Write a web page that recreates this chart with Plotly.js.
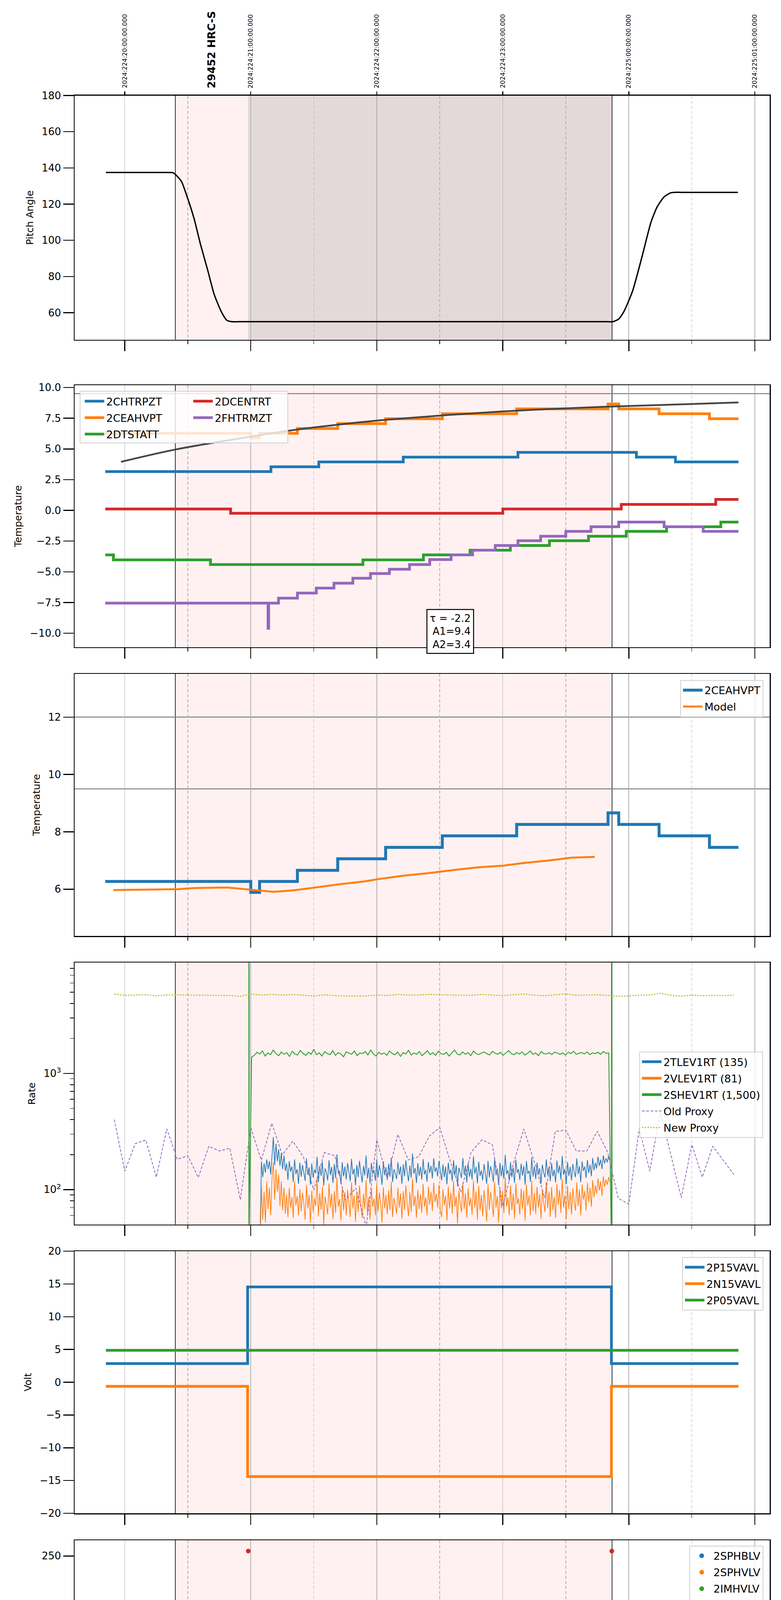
<!DOCTYPE html>
<html><head><meta charset="utf-8">
<script src="https://cdn.plot.ly/plotly-3.0.1.min.js"></script>
<style>html,body{margin:0;padding:0;background:#fff}#chart{width:2000px;height:6200px}</style>
</head><body><div id="chart"></div>
<script>
// ---------------- DATA (hours, local) ----------------
const hourTicks = [16, 17, 18, 19, 20, 21];
const hourLabels = ['16h', '17h', '18h', '19h', '20h', '21h'];
const halfTicks = [16.5, 17.5, 18.5, 19.5, 20.5];
const halfLabel = '30';
const utcLabels = ['2024:224:20:00:00.000', '2024:224:21:00:00.000', '2024:224:22:00:00.000',
  '2024:224:23:00:00.000', '2024:225:00:00:00.000', '2024:225:01:00:00.000'];
const dateLabel = '2024-08-11 (224)';
const obsLabel = '29452 HRC-S';
const obsLabelT = 16.69;
const obsStart = 16.401, obsEnd = 19.867, dwellStart = 16.978;
const hvOn = 16.986, hvOff = 19.864;
const limitLines2 = [9.5];
const limitLines3 = [12, 9.5];
const fitText = 'τ = -2.2<br>A1=9.4<br>A2=3.4';

// Panel 1: pitch
const pitch = [[15.85,137.5],[16.34,137.5],[16.38,137.4],[16.40,136.5],[16.45,132.5],[16.50,123],[16.55,112],[16.60,98],[16.66,83],
  [16.71,70],[16.77,60],[16.81,55.8],[16.85,55],[16.90,55],[19.83,55],[19.874,55],[19.92,56.5],[19.96,60.5],[20.03,72],[20.105,91],
  [20.176,110],[20.225,118.5],[20.28,124],[20.33,126.2],[20.36,126.5],[20.42,126.5],[20.866,126.5]];

// Panel 2: temperatures
const chtrpzt = [[15.845,3.16],[17.16,3.55],[17.54,3.94],[18.21,4.33],[19.12,4.72],[20.06,4.33],[20.37,3.94],[20.87,3.94]];
const ceahvpt = [[15.845,6.27],[17.0,5.89],[17.07,6.27],[17.37,6.66],[17.69,7.06],[18.07,7.46],[18.52,7.86],[19.11,8.26],
  [19.835,8.66],[19.92,8.26],[20.24,7.86],[20.64,7.46],[20.87,7.46]];
const dtstatt = [[15.845,-3.62],[15.91,-4.03],[16.68,-4.41],[17.89,-4.03],[18.37,-3.62],[18.74,-3.24],[19.06,-2.86],
  [19.37,-2.47],[19.68,-2.10],[19.98,-1.71],[20.30,-1.33],[20.73,-0.95],[20.87,-0.95]];
const dcentrt = [[15.845,0.11],[16.84,-0.24],[19.00,0.11],[19.94,0.49],[20.69,0.89],[20.87,0.89]];
const fhtrmzt = [[15.845,-7.55],[17.137,-9.6],[17.142,-7.55],[17.22,-7.14],[17.37,-6.73],[17.52,-6.32],[17.66,-5.93],
  [17.81,-5.52],[17.95,-5.14],[18.10,-4.79],[18.26,-4.41],[18.42,-4.0],[18.59,-3.62],[18.76,-3.24],[18.94,-2.86],
  [19.12,-2.47],[19.30,-2.10],[19.50,-1.71],[19.70,-1.33],[19.92,-0.95],[20.28,-1.33],[20.59,-1.71],[20.87,-1.71]];
const fitCurve = [[15.97,3.95],[16.40,4.95],[16.79,5.65],[17.28,6.45],[17.54,6.8],[17.8,7.1],[18.06,7.36],[18.51,7.72],
  [19.1,8.11],[19.86,8.45],[20.87,8.78]];

// Panel 3: model
const ceaModel = [[15.91,5.97],[16.43,6.0],[16.55,6.04],[16.81,6.06],[16.91,6.02],[17.03,5.97],[17.18,5.91],[17.34,5.96],
  [17.5,6.06],[17.7,6.17],[17.9,6.27],[18.01,6.35],[18.21,6.47],[18.41,6.56],[18.61,6.67],[18.8,6.76],[19.0,6.82],
  [19.16,6.91],[19.36,7.0],[19.55,7.1],[19.73,7.13]];

// Panel 4: rates
const tlev1rt = [40,175,128,168,140,182,150,176,135,190,283,162,248,175,222,160,205,150,196,145,
  168,121,176,143,158,117,182,136,150,112,171,129,163,140,119,185,134,155,110,168,127,149,138,192,116,
  160,131,174,108,152,141,120,179,133,157,114,166,125,201,137,146,111,172,130,158,122,169,143,118,184,
  135,151,109,163,128,177,139,115,160,132,196,124,154,113,170,136,148,119,181,127,162,141,110,175,133,
  156,121,167,129,188,116,150,138,123,172,134,159,112,165,130,178,140,118,161,126,204,137,153,114,169,
  131,157,122,183,135,148,117,173,139,160,125,186,142,155,130,176,144,120,165,128,158,111,171,136,149,
  118,179,132,163,107,154,140,126,187,134,161,115,168,129,151,122,193,137,157,113,174,131,146,120,166,
  138,112,177,127,159,141,116,184,133,152,109,170,130,162,124,199,136,147,119,172,128,155,114,181,139,
  150,121,167,132,160,110,176,137,145,117,189,129,158,123,171,135,153,112,164,140,127,182,133,156,118,
  169,130,148,115,178,138,161,122,195,134,151,111,173,131,157,120,166,142,128,185,136,159,116,175,145,
  158,126,180,139,164,130,187,147,170,152,192,160,181,150,197,168,186,172,194,180];
const vlev1rt = [30,108,55,96,52,118,68,104,60,126,172,82,150,96,135,72,118,66,104,62,
  91,58,104,70,86,57,119,73,88,60,101,65,94,76,55,110,69,90,52,98,64,84,72,125,59,
  93,67,106,50,87,75,61,113,70,92,56,97,63,128,71,83,54,103,66,95,60,100,77,58,116,
  69,89,53,96,64,108,74,57,92,68,121,62,86,55,102,71,84,60,111,65,94,76,52,105,69,
  90,61,99,66,117,58,85,73,62,104,70,93,56,97,67,109,75,59,95,64,124,72,88,57,100,
  68,91,63,112,71,86,60,106,74,96,65,115,78,92,70,110,66,58,101,73,89,54,107,69,94,
  62,118,71,87,51,98,76,64,114,68,93,57,103,72,85,61,120,70,96,55,108,66,90,59,99,
  74,53,111,67,95,78,58,116,70,88,52,104,69,97,63,127,71,86,60,109,66,92,56,113,75,
  84,61,102,68,98,54,110,73,89,60,119,65,94,62,106,70,91,56,101,77,64,117,69,96,58,
  105,67,87,57,112,74,99,63,123,70,90,55,108,68,95,61,103,79,66,115,72,100,60,111,82,
  97,66,114,78,104,71,121,86,109,92,125,98,118,88,130,106,122,110,128,116];
const shev1rt = [30,1380,1430,1520,1470,1560,1410,1500,1450,1590,1480,1420,1530,1460,1510,1400,1550,1470,1440,1580,
  1490,1430,1520,1460,1610,1450,1500,1410,1540,1480,1450,1570,1430,1510,1470,1390,1530,1490,1460,1560,
  1420,1500,1480,1540,1440,1590,1470,1410,1520,1460,1500,1430,1560,1480,1450,1530,1400,1510,1470,1580,
  1440,1500,1460,1540,1420,1490,1570,1450,1510,1430,1550,1480,1460,1520,1410,1500,1590,1470,1440,1530,
  1460,1510,1420,1560,1480,1450,1500,1530,1470,1440,1550,1490,1460,1520,1430,1500,1570,1480,1450,1510,
  1470,1530,1440,1490,1560,1460,1500,1420,1540,1480,1470,1510,1450,1530,1490,1460,1500,1440,1520,1480,
  1550,1460,1490,1510,1470,1530,1450,1500,1480,1520,1460,1540,1490,1500,30];
const oldProxy = [400,144,249,267,128,333,182,196,127,236,215,227,82,342,179,372,199,261,192,99,
  208,196,81,103,48,268,124,298,180,192,289,342,175,95,211,268,244,72,166,333,
  173,85,317,325,215,215,317,208,84,75,335,144,468,199,85,244,128,236,179,135];
const newProxy = [4819,4696,4731,4749,4645,4731,4749,4714,4714,4714,4696,4679,4610,4819,4714,4784,4714,4766,4714,4628,
  4749,4679,4628,4628,4645,4731,4679,4784,4714,4731,4784,4749,4731,4714,4696,4784,4731,4662,4749,4819,
  4714,4662,4749,4837,4696,4731,4749,4696,4610,4645,4714,4731,4891,4696,4628,4714,4662,4696,4679,4714];
const proxyStart = 15.917, proxyEnd = 20.833;
const levStart = 17.074, levEnd = 19.85;
const shevStart = 16.985, shevEnd = 19.862;

// Panel 5: voltages
const p15vavl = [[15.85,2.85],[16.975,14.55],[19.862,2.85],[20.87,2.85]];
const n15vavl = [[15.85,-0.62],[16.975,-14.4],[19.862,-0.62],[20.87,-0.62]];
const p05vavl = [[15.85,4.88],[20.87,4.88]];

// Panel 6: HV monitors
const sphblvEarly = [[17.026,118],[17.034,102],[17.046,97],[17.058,92],[17.069,87],[17.08,82]];
const sphblvLevel = [77.6,77.8,77.5,77.7,77.6,77.9,77.5,77.6,77.8,77.6,77.5,77.7,77.6,77.8,77.6,77.5,77.7,77.9,77.6,77.5,
  77.8,77.6,77.7,77.5,77.6,77.8,77.6,77.7,77.5,77.9,77.6,77.7,77.5,77.6,77.8,77.6,77.5,77.7,77.6,77.8,
  77.6,77.5,77.7,77.9,77.6,77.5,77.8,77.6,77.7,77.5,77.6,77.8,77.6,77.7,77.5,77.9,77.6,77.7,77.5,77.6,
  77.8,77.6,77.5,77.7,77.6,77.8,77.6,77.5,77.7,77.9,77.6,77.5,77.8,77.6,77.7,77.5,77.6,77.8,77.6,77.7,
  77.5,77.9,77.6,77.7,77.6,77.8,77.5,77.7,77.6,77.9,77.5,77.6,77.8,77.6,77.5,77.7,77.6,77.8,77.6,77.5,
  77.7,77.9,77.6,77.5,77.8,77.6,77.7,77.5,77.6,77.8,77.6,77.7,77.5,77.9,77.6,77.7,77.5,77.6,77.8,77.6,
  77.5,77.7,77.6,77.8,77.6,77.5,77.7,77.9,77.6,77.5,77.8,77.6,77.7,77.5,77.6,77.8,77.6,77.7,77.5,77.9,
  77.6,77.7,77.5,77.6,77.8,77.6,77.5,77.7,77.6,77.8,77.6,77.5,77.7,77.9,77.6,77.5,77.8,77.6,77.7,77.5,
  77.6,77.8,77.6,77.7,77.5,77.9,77.6,77.7];
const sphvlvEarly = [[17.026,127],[17.034,96],[17.046,91],[17.058,86],[17.069,80],[17.08,75]];
const sphvlvLevel = [71.0,70.8,71.2,69.6,71.0,70.9,71.1,70.7,69.8,71.0,71.2,70.9,71.0,69.5,70.8,71.1,71.0,70.6,71.2,69.7,
  71.0,70.9,71.1,70.8,71.0,69.6,70.9,71.2,71.0,70.7,71.1,69.8,71.0,70.9,71.2,70.8,71.0,69.5,71.1,70.9,
  71.0,70.7,71.2,69.9,71.0,70.8,71.1,70.9,71.0,69.6,70.8,71.2,71.0,70.9,71.1,69.7,71.0,70.8,71.2,70.9,
  71.0,69.8,71.1,70.7,71.0,70.9,71.2,69.6,71.0,70.8,71.1,70.9,71.0,69.7,70.8,71.2,71.0,70.9,71.1,69.9,
  71.0,70.8,71.1,71.0,70.9,71.2,70.8,71.0,69.7,71.1,70.9,71.0,70.8,71.2,69.6,71.0,70.9,71.1,70.7,71.0,
  69.8,70.9,71.2,71.0,70.8,71.1,69.5,71.0,70.9,71.2,70.7,71.0,71.1,69.9,70.8,71.0,71.2,70.9,69.6,71.1,
  71.0,70.8,71.2,70.9,69.7,71.0,71.1,70.8,71.0,70.9,69.8,71.2,71.0,70.7,71.1,70.9,69.6,71.0,70.8,71.2,
  71.0,70.9,69.9,71.1,70.8,71.0,71.2,70.9,69.7,71.0,70.8,71.1,70.9,71.0,69.5,71.2,70.8,71.0,70.9,71.1,
  70.7,71.0,69.8,71.2,70.9,71.0,70.8,71.0];
const sphvlvSpikes = [[18.10,127],[18.16,127],[18.22,127],[18.25,127],[18.27,127],[18.31,127],[18.36,127],
  [18.38,127],[18.41,127],[18.51,127],[19.66,127],[19.71,127],[19.80,127]];
const hvLevelStart = 17.09, hvLevelEnd = 19.862;
const imhblv = [[16.98,255],[19.865,255]];

// Panel 7: detector temperatures  (blocks: [t0, t1, low, high] of rapidly toggling telemetry)
const spinatm = [[16.974,1.2],[16.985,1.74],[19.086,2.22],[19.852,2.22]];
const spinBlocks = [[18.089,18.12,-2.5,1.74],[18.134,18.249,-2.5,1.74],[18.276,18.324,-2.5,1.74],[18.332,18.391,-2.5,1.74],
  [18.435,18.46,-2.5,1.74],[18.484,18.615,-2.5,1.74],[18.652,18.677,-2.5,1.74],[18.744,18.767,-2.5,1.74],
  [19.605,19.733,-2.5,2.22],[19.764,19.791,-2.5,2.22],[19.833,19.85,-2.5,2.22]];
const sphvatm = [[16.974,14.33],[17.156,14.71],[17.231,15.07],[17.314,15.4],[17.381,15.76],[17.461,16.09],[17.559,16.44],
  [17.658,16.8],[17.769,17.12],[17.91,17.45],[18.05,17.8],[18.214,18.19],[18.259,-2.5],[18.265,18.19],[18.403,18.56],
  [18.414,-2.5],[18.42,18.56],[18.622,18.87],[18.947,19.2],[19.01,18.87],[19.016,19.2],[19.321,19.58],[19.736,19.95],
  [19.803,-2.5],[19.808,19.95],[19.852,19.95]];
const sphvBlocks = [[18.089,18.12,8.42,17.8],[18.134,18.214,8.42,17.8],[18.214,18.228,8.42,18.19],[18.228,18.403,8.65,18.19],
  [18.403,18.615,8.65,18.56],[18.66,18.666,8.7,18.87],[18.75,18.756,8.7,18.87],[19.605,19.733,9.0,19.58],
  [19.764,19.77,9.25,19.95],[19.79,19.796,9.25,19.95],[19.835,19.845,9.25,19.95]];
const iminatm = [[16.974,-0.49],[17.338,-1.02],[17.346,-0.49],[18.947,-0.07],[19.80,-2.5],[19.808,-0.07],[19.852,-0.07]];
const iminBlocks = [[18.089,18.12,-0.49,1.8],[18.134,18.324,-0.49,1.8],[18.332,18.391,-0.49,1.8],[18.403,18.46,-0.49,1.8],
  [18.484,18.615,-0.49,1.8],[18.652,18.677,-0.49,1.8],[18.744,18.767,-0.49,1.8],[19.605,19.733,-0.07,2.22],
  [19.764,19.791,-0.07,2.22],[19.833,19.85,-0.07,2.22]];
const imhvatm = [[16.970,-3],[16.974,13.63],[17.535,14.0],[17.548,13.63],[17.579,13.97],[17.712,13.6],[17.722,13.97],
  [17.957,14.32],[18.259,8.6],[18.265,14.32],[18.332,14.62],[18.414,8.6],[18.42,14.62],[18.66,18.9],[18.666,14.62],
  [18.726,15.0],[18.75,18.9],[18.756,15.0],[19.21,15.3],[19.75,15.67],[19.855,25],[19.862,-3],[19.869,25],[19.876,-3]];
const imhvBlocks = [[18.089,18.12,14.32,17.82],[18.134,18.214,14.32,17.82],[18.214,18.332,14.32,18.17],[18.332,18.403,14.62,18.17],
  [18.403,18.615,14.62,18.55],[19.605,19.733,15.3,19.6],[19.764,19.77,9.25,20.0],[19.79,19.796,9.25,20.0],[19.835,19.845,9.25,20.0]];

// Panel 8: FEA temperatures
const fradpyt = [[15.845,-9.8],[16.43,-9.17],[16.59,-9.8],[17.18,-9.17],[17.35,-8.78],[17.51,-8.37],[17.67,-7.96],[17.84,-7.57],
  [18.00,-7.16],[18.17,-6.78],[18.36,-6.37],[18.54,-5.98],[18.73,-5.58],[18.93,-5.19],[19.14,-4.79],[19.36,-4.39],
  [19.57,-4.01],[19.81,-3.65],[20.03,-3.26],[20.19,-2.85],[20.20,-3.26],[20.32,-3.65],[20.45,-4.02],[20.72,-4.41],[20.87,-4.41]];
const fepratm = [[16.970,-10],[16.974,-8.07],[16.998,-7.7],[17.045,-7.26],[17.093,-6.85],[17.144,-6.44],[17.211,-6.0],
  [17.294,-5.61],[17.393,-5.19],[17.508,-4.78],[17.626,-4.37],[17.769,-3.96],[17.915,-3.54],[18.073,-3.11],[18.22,-2.68],
  [18.40,-2.27],[18.57,-1.85],[18.765,-1.42],[18.963,-0.98],[19.172,-0.56],[19.389,-0.1],[19.753,0.36],[19.852,0.36]];
const feprBlocks = [[18.093,18.125,-6.04,-3.11],[18.141,18.30,-6.04,-2.9],[18.32,18.38,-6.04,-2.68],[18.396,18.43,-6.04,-2.27],
  [18.476,18.607,-6.04,-2.1],[18.646,18.666,-6.04,-1.85],[18.745,18.765,-6.04,-1.85],[19.607,19.721,-6.04,-0.1]];
const fe00atm = [[16.970,-10],[16.974,-8.9],[17.074,-8.52],[17.095,-9.33],[17.100,-8.52],[17.196,-8.19],[17.294,-7.81],
  [17.39,-7.44],[17.492,-7.09],[17.591,-6.74],[17.698,-6.39],[17.808,-6.04],[17.923,-5.67],[17.972,-7.15],[17.977,-5.67],
  [18.034,-5.33],[18.133,-5.04],[18.257,-10],[18.262,-5.04],[18.31,-4.7],[18.415,-10],[18.42,-4.7],[18.429,-4.37],
  [18.559,-3.96],[18.651,1],[18.657,-3.96],[18.694,-3.63],[18.750,1],[18.756,-3.63],[18.836,-3.33],[18.982,-2.96],
  [19.083,-2.7],[19.088,-2.96],[19.12,-2.63],[19.148,-2.38],[19.153,-2.63],[19.279,-2.28],[19.318,-2.05],[19.323,-2.28],
  [19.429,-1.96],[19.474,-1.72],[19.479,-1.96],[19.581,-1.4],[19.586,-1.96],[19.595,-1.63],[19.773,1],[19.79,-10],
  [19.805,1],[19.855,-10],[19.87,1],[19.884,-10]];
const fe00Blocks = [[18.093,18.133,-5.33,1],[18.133,18.31,-5.04,1],[18.31,18.429,-4.7,1],[18.429,18.559,-4.37,1],
  [18.559,18.615,-3.96,1],[19.607,19.721,-1.69,1]];

// ---------------- LAYOUT CONSTANTS ----------------
const W = 2000, H = 6200, F = 'DejaVu Sans';
const plotL = 191, plotR = 1971;
const xRange = [15.6018, 21.1178];
const panelTop = [244.6, 986, 1725, 2464.4, 3203, 3943, 4682, 5421.5];
const panelBot = [869.6, 1656.7, 2396, 3134.6, 3874, 4613.5, 5352, 6090.6];
const C = {blue:'#1f77b4', orange:'#ff7f0e', green:'#2ca02c', red:'#d62728', purple:'#9467bd', olive:'#bcbd22'};
const LW = 7;

// ---------------- HELPERS ----------------
function unzip(p) { return {x: p.map(a => a[0]), y: p.map(a => a[1])}; }
function lin(a, b, n) { const o = []; for (let i = 0; i < n; i++) o.push(a + (b - a) * i / (n - 1)); return o; }
function rects(spec) { const x = [], y = []; spec.forEach(s => { x.push(s[0], s[1], s[1], s[0], s[0], null); y.push(s[2], s[2], s[3], s[3], s[2], null); }); return {x, y}; }
function ax(i) { return {xaxis: i === 1 ? 'x' : 'x' + i, yaxis: i === 1 ? 'y' : 'y' + i}; }
const traces = [];
function step(p, name, color, i, legend, width) {
  const d = unzip(p);
  traces.push(Object.assign({type:'scatter', mode:'lines', x:d.x, y:d.y, name:name, legend:legend, legendgroup:name + '_' + i,
    line:{color:color, width:width || LW, shape:'hv'}, hoverinfo:'skip'}, ax(i)));
}
function block(spec, color, i) {
  const d = rects(spec);
  traces.push(Object.assign({type:'scatter', mode:'lines', x:d.x, y:d.y, fill:'toself', fillcolor:color,
    line:{color:color, width:LW}, showlegend:false, hoverinfo:'skip'}, ax(i)));
}

// ---------------- TRACES ----------------
(function () { const d = unzip(pitch);
  traces.push(Object.assign({type:'scatter', mode:'lines', x:d.x, y:d.y, line:{color:'#000', width:3.5, shape:'spline', smoothing:0.6}, showlegend:false, hoverinfo:'skip'}, ax(1))); })();
step(chtrpzt, '2CHTRPZT', C.blue, 2, 'legend');
step(ceahvpt, '2CEAHVPT', C.orange, 2, 'legend');
step(dtstatt, '2DTSTATT', C.green, 2, 'legend');
step(dcentrt, '2DCENTRT', C.red, 2, 'legend2');
step(fhtrmzt, '2FHTRMZT', C.purple, 2, 'legend2');
(function () { const d = unzip(fitCurve);
  traces.push(Object.assign({type:'scatter', mode:'lines', x:d.x, y:d.y, line:{color:'#454545', width:4.5, shape:'spline'}, showlegend:false, hoverinfo:'skip'}, ax(2))); })();
step(ceahvpt, '2CEAHVPT', C.blue, 3, 'legend3', 7.5);
(function () { const d = unzip(ceaModel);
  traces.push(Object.assign({type:'scatter', mode:'lines', x:d.x, y:d.y, name:'Model', legend:'legend3', legendgroup:'model_3', line:{color:C.orange, width:5}, hoverinfo:'skip'}, ax(3))); })();
[[tlev1rt, levStart, levEnd, C.blue, '2TLEV1RT (135)', 1.8], [vlev1rt, levStart, levEnd, C.orange, '2VLEV1RT (81)', 1.8],
 [shev1rt, shevStart, shevEnd, C.green, '2SHEV1RT (1,500)', 2.2]].forEach(r => {
  traces.push(Object.assign({type:'scatter', mode:'lines', x:lin(r[1], r[2], r[0].length), y:r[0], line:{color:r[3], width:r[5]}, showlegend:false, hoverinfo:'skip'}, ax(4)));
  traces.push(Object.assign({type:'scatter', mode:'lines', x:[null], y:[null], name:r[4], legend:'legend4', legendgroup:r[4], line:{color:r[3], width:LW}, hoverinfo:'skip'}, ax(4)));
});
traces.push(Object.assign({type:'scatter', mode:'lines', x:lin(proxyStart, proxyEnd, oldProxy.length), y:oldProxy, name:'Old Proxy', legend:'legend4', legendgroup:'old', line:{color:C.purple, width:2, dash:'7px,4px'}, hoverinfo:'skip'}, ax(4)));
traces.push(Object.assign({type:'scatter', mode:'lines', x:lin(proxyStart, proxyEnd, newProxy.length), y:newProxy, name:'New Proxy', legend:'legend4', legendgroup:'new', line:{color:C.olive, width:2.5, dash:'4px,3px'}, hoverinfo:'skip'}, ax(4)));
step(p15vavl, '2P15VAVL', C.blue, 5, 'legend5');
step(n15vavl, '2N15VAVL', C.orange, 5, 'legend5');
step(p05vavl, '2P05VAVL', C.green, 5, 'legend5');
(function () {
  const bx = sphblvEarly.map(a => a[0]).concat(lin(hvLevelStart, hvLevelEnd, sphblvLevel.length));
  const by = sphblvEarly.map(a => a[1]).concat(sphblvLevel);
  const ox = sphvlvEarly.map(a => a[0]).concat(lin(hvLevelStart, hvLevelEnd, sphvlvLevel.length), sphvlvSpikes.map(a => a[0]));
  const oy = sphvlvEarly.map(a => a[1]).concat(sphvlvLevel, sphvlvSpikes.map(a => a[1]));
  const mk = (c) => ({color:c, size:12});
  traces.push(Object.assign({type:'scatter', mode:'markers', x:bx, y:by, name:'2SPHBLV', legend:'legend6', legendgroup:'g61', marker:mk(C.blue), hoverinfo:'skip'}, ax(6)));
  traces.push(Object.assign({type:'scatter', mode:'markers', x:ox, y:oy, name:'2SPHVLV', legend:'legend6', legendgroup:'g62', marker:mk(C.orange), hoverinfo:'skip'}, ax(6)));
  traces.push(Object.assign({type:'scatter', mode:'markers', x:[null], y:[null], name:'2IMHVLV', legend:'legend6', legendgroup:'g63', marker:mk(C.green), hoverinfo:'skip'}, ax(6)));
  const r = unzip(imhblv);
  traces.push(Object.assign({type:'scatter', mode:'markers', x:r.x, y:r.y, name:'2IMHBLV', legend:'legend6', legendgroup:'g64', marker:mk(C.red), hoverinfo:'skip'}, ax(6)));
})();
step(spinatm, '2SPINATM', C.blue, 7, 'legend7'); block(spinBlocks, C.blue, 7);
step(sphvatm, '2SPHVATM', C.orange, 7, 'legend7'); block(sphvBlocks, C.orange, 7);
step(iminatm, '2IMINATM', C.green, 7, 'legend7'); block(iminBlocks, C.green, 7);
step(imhvatm, '2IMHVATM', C.red, 7, 'legend7'); block(imhvBlocks, C.red, 7);
step(fhtrmzt, '2FHTRMZT', C.blue, 8, 'legend8');
step(fradpyt, '2FRADPYT', C.orange, 8, 'legend8');
step(fepratm, '2FEPRATM', C.green, 8, 'legend8'); block(feprBlocks, C.green, 8);
step(fe00atm, '2FE00ATM', C.red, 8, 'legend8'); block(fe00Blocks, C.red, 8);
traces.push({type:'scatter', mode:'lines', x:[null], y:[null], xaxis:'x9', yaxis:'y', showlegend:false, hoverinfo:'skip'});

// ---------------- LAYOUT ----------------
const layout = {width:W, height:H, margin:{l:0, r:0, t:0, b:0}, paper_bgcolor:'#fff', plot_bgcolor:'#fff',
  font:{family:F, color:'#000'}, showlegend:true, shapes:[], annotations:[]};
const xdom = [plotL / W, plotR / W];
for (let i = 1; i <= 8; i++) {
  const s = i === 1 ? '' : String(i);
  layout['xaxis' + s] = {domain:xdom, range:xRange, anchor:'y' + s, tickmode:'array', tickvals:hourTicks, ticktext:hourLabels,
    showticklabels:i === 8, ticks:'outside', ticklen:27, tickwidth:2.5, tickcolor:'#000',
    showgrid:true, gridcolor:'#b0b0b0', gridwidth:1.6, zeroline:false, showline:true, mirror:true, linecolor:'#000', linewidth:2.5,
    automargin:false, tickfont:{family:F, size:26, color:'#000'}, ticklabelstandoff:8,
    minor:{tickmode:'array', tickvals:halfTicks, ticks:'outside', ticklen:9, tickwidth:1.6, tickcolor:'#000',
      showgrid:true, gridcolor:'#b0b0b0', gridwidth:1.6, griddash:'8px,5px'}};
  layout['yaxis' + s] = {domain:[1 - panelBot[i - 1] / H, 1 - panelTop[i - 1] / H], anchor:'x' + s, ticks:'outside', ticklen:27,
    tickwidth:2.5, tickcolor:'#000', showline:true, mirror:true, linecolor:'#000', linewidth:2.5, showgrid:false, zeroline:false,
    automargin:false, tickfont:{family:F, size:26, color:'#000'}};
  layout.shapes.push({type:'rect', xref:'x' + s, yref:'y' + s + ' domain', x0:obsStart, x1:obsEnd, y0:0, y1:1, fillcolor:'#fff1f1', line:{width:0}, layer:'below'});
  if (i === 1) layout.shapes.push({type:'rect', xref:'x', yref:'y domain', x0:dwellStart, x1:obsEnd, y0:0, y1:1, fillcolor:'#e4d9d9', line:{width:0}, layer:'below'});
  [obsStart, obsEnd].forEach(t => layout.shapes.push({type:'line', xref:'x' + s, yref:'y' + s + ' domain', x0:t, x1:t, y0:0, y1:1, line:{color:'#000', width:1.6}, layer:'below'}));
}
layout.xaxis9 = {overlaying:'x', side:'top', anchor:'y', range:xRange, tickmode:'array', tickvals:hourTicks, ticks:'outside', ticklen:10,
  tickwidth:2.5, tickcolor:'#000', showticklabels:false, showgrid:false, showline:false, zeroline:false, automargin:false};
const ttl = (t) => ({text:t, font:{family:F, size:25, color:'#000'}, standoff:14});
Object.assign(layout.yaxis, {range:[45.06, 180], tickmode:'array', tickvals:[60, 80, 100, 120, 140, 160, 180], title:ttl('Pitch Angle')});
Object.assign(layout.yaxis2, {range:[-11.13, 10.19], tickmode:'array', tickvals:[-10, -7.5, -5, -2.5, 0, 2.5, 5, 7.5, 10], tickformat:'.1f', title:ttl('Temperature')});
Object.assign(layout.yaxis3, {range:[4.37, 13.51], tickmode:'array', tickvals:[6, 8, 10, 12], title:ttl('Temperature')});
Object.assign(layout.yaxis4, {type:'log', range:[1.70, 3.953], tickmode:'array', tickvals:[100, 1000], ticktext:['10<sup>2</sup>', '10<sup>3</sup>'], title:ttl('Rate'),
  minor:{tickmode:'array', tickvals:[60, 70, 80, 90, 200, 300, 400, 500, 600, 700, 800, 900, 2000, 3000, 4000, 5000, 6000, 7000, 8000], ticks:'outside', ticklen:10, tickwidth:1.6, tickcolor:'#000', showgrid:false}});
Object.assign(layout.yaxis5, {range:[-20, 20], tickmode:'array', tickvals:[-20, -15, -10, -5, 0, 5, 10, 15, 20], title:ttl('Volt')});
Object.assign(layout.yaxis6, {range:[0, 266], tickmode:'array', tickvals:[0, 50, 100, 150, 200, 250], title:ttl('HV Monitor')});
Object.assign(layout.yaxis7, {range:[-2.03, 20.67], tickmode:'array', tickvals:[0, 5, 10, 15, 20], title:ttl('Detector Temp')});
Object.assign(layout.yaxis8, {range:[-9.48, 0.5], tickmode:'array', tickvals:[-8, -6, -4, -2, 0], title:ttl('FEA Temp')});

limitLines2.forEach(v => layout.shapes.push({type:'line', xref:'x2 domain', yref:'y2', x0:0, x1:1, y0:v, y1:v, line:{color:'#808080', width:2.5}, layer:'below'}));
limitLines3.forEach(v => layout.shapes.push({type:'line', xref:'x3 domain', yref:'y3', x0:0, x1:1, y0:v, y1:v, line:{color:'#808080', width:2.5}, layer:'below'}));
[hvOn, hvOff].forEach(t => layout.shapes.push({type:'line', xref:'x4', yref:'y4 domain', x0:t, x1:t, y0:0, y1:1, line:{color:C.green, width:3}, layer:'below'}));
layout.shapes.push({type:'rect', xref:'paper', yref:'paper', x0:205 / W, x1:737 / W, y0:1 - 1134 / H, y1:1 - 1001.7 / H,
  fillcolor:'rgba(255,255,255,0.8)', line:{color:'#d0d0d0', width:2}, layer:'above'});

const lg = (o) => Object.assign({font:{family:F, size:27, color:'#000'}, bgcolor:'rgba(255,255,255,0.8)', bordercolor:'#d0d0d0', borderwidth:2,
  xanchor:'right', yanchor:'top', traceorder:'grouped', tracegroupgap:4, itemwidth:50}, o);
layout.legend = lg({x:212 / W, y:1 - 1003 / H, xanchor:'left', bgcolor:'rgba(0,0,0,0)', borderwidth:0});
layout.legend2 = lg({x:490 / W, y:1 - 1003 / H, xanchor:'left', bgcolor:'rgba(0,0,0,0)', borderwidth:0});
layout.legend3 = lg({x:1955 / W, y:1 - 1740.7 / H});
layout.legend4 = lg({x:1954 / W, y:1 - 2692 / H});
layout.legend5 = lg({x:1955 / W, y:1 - 3218 / H});
layout.legend6 = lg({x:1955 / W, y:1 - 3956.7 / H});
layout.legend7 = lg({x:1955 / W, y:1 - 4694.5 / H});
layout.legend8 = lg({x:1955 / W, y:1 - 6076.7 / H, yanchor:'bottom'});

hourTicks.forEach((h, k) => layout.annotations.push({xref:'x', yref:'paper', x:h, y:1 - 228 / H, text:utcLabels[k], textangle:-90,
  showarrow:false, xanchor:'center', yanchor:'bottom', font:{family:F, size:16, color:'#000'}}));
layout.annotations.push({xref:'x', yref:'paper', x:obsLabelT, y:1 - 228 / H, text:'<b>' + obsLabel + '</b>', textangle:-90,
  showarrow:false, xanchor:'center', yanchor:'bottom', font:{family:F, size:27, color:'#000'}});
halfTicks.forEach(h => layout.annotations.push({xref:'x8', yref:'paper', x:h, y:1 - 6105.5 / H, text:halfLabel, showarrow:false,
  xanchor:'center', yanchor:'middle', font:{family:F, size:18, color:'#000'}}));
layout.annotations.push({xref:'paper', yref:'paper', x:(plotL + plotR) / 2 / W, y:1 - 6180 / H, text:dateLabel, showarrow:false,
  xanchor:'center', yanchor:'middle', font:{family:F, size:32, color:'#000'}});
layout.annotations.push({xref:'paper', yref:'paper', x:1152.5 / W, y:1 - 1617 / H, text:fitText, showarrow:false, align:'right',
  xanchor:'center', yanchor:'middle', bordercolor:'#000', borderwidth:2.5, borderpad:6, bgcolor:'#fff', font:{family:F, size:26, color:'#000'}});

Plotly.newPlot('chart', traces, layout, {displayModeBar:false, staticPlot:true});
</script></body></html>
